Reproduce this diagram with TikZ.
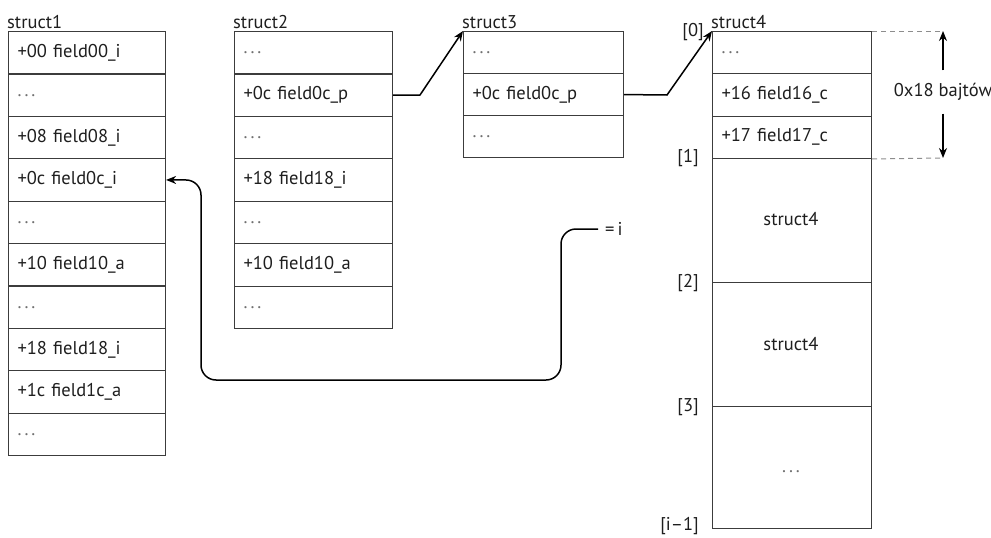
\documentclass[tikz,border=0pt]{standalone}
\usepackage{fontspec}
\setmainfont{PT Sans}
\usetikzlibrary{arrows.meta}
\definecolor{boxc}{HTML}{3C3C3C}
\definecolor{txtc}{HTML}{1E1E1E}
\definecolor{dotc}{HTML}{707070}
\newcommand{\fs}{\fontsize{18.5}{22}\selectfont}
\newcommand{\dd}{{\color{dotc}.\hspace{3pt}.\hspace{3pt}.}}
\begin{document}
\begin{tikzpicture}[x=1pt,y=-1pt,
  cellbase/.style={draw=boxc, line width=1.1pt, rectangle, anchor=north west,
    inner xsep=9pt, inner ysep=0pt, align=left, font=\fs, text=txtc},
  cA/.style={cellbase, text width=139pt, minimum height=42.4pt},
  cB/.style={cellbase, text width=140pt, minimum height=42.4pt},
  cC/.style={cellbase, text width=142pt, minimum height=42pt},
  cD/.style={cellbase, text width=141pt, minimum height=42.3pt},
  big/.style={draw=boxc, line width=1.1pt, rectangle, anchor=north west,
    minimum width=159pt, font=\fs, text=txtc, align=center},
  title/.style={anchor=south west, inner sep=1pt, font=\fs, text=txtc},
  idx/.style={anchor=east, inner sep=1pt, font=\fs, text=txtc},
  link/.style={black, line width=1.5pt, -{Stealth[length=10pt,width=8pt]}},
  dim/.style={black, line width=1.4pt, -{Stealth[length=10pt,width=8pt]}},
  guide/.style={dotc!80, line width=1pt, dashed, dash pattern=on 5pt off 4pt}
]
\useasboundingbox (0,0) rectangle (991,538);

% struct1
\node[title] (t1) at (6,30) {struct1};
\foreach \t [count=\i] in {+00 field00\_i,\dd,+08 field08\_i,+0c field0c\_i,\dd,+10 field10\_a,\dd,+18 field18\_i,+1c field1c\_a,\dd}
  \node[cA] (s1-\i) at (8,{31+(\i-1)*42.4}) {\t};

% struct2
\node[title] (t2) at (232,30) {struct2};
\foreach \t [count=\i] in {\dd,+0c field0c\_p,\dd,+18 field18\_i,\dd,+10 field10\_a,\dd}
  \node[cB] (s2-\i) at (234,{31+(\i-1)*42.43}) {\t};

% struct3
\node[title] (t3) at (461,30) {struct3};
\foreach \t [count=\i] in {\dd,+0c field0c\_p,\dd}
  \node[cC] (s3-\i) at (463,{31+(\i-1)*42}) {\t};

% struct4
\node[title] (t4) at (710,30) {struct4};
\foreach \t [count=\i] in {\dd,+16 field16\_c,+17 field17\_c}
  \node[cD] (s4-\i) at (712,{31+(\i-1)*42.3}) {\t};
\node[big, minimum height=124pt] (s4a) at (712,158) {};
\node[big, minimum height=124pt] (s4b) at (712,282) {};
\node[big, minimum height=122pt] (s4c) at (712,406) {};
\node[font=\fs, text=txtc] (s4at) at (791,219) {struct4};
\node[font=\fs, text=txtc] (s4bt) at (791,344) {struct4};
\node[font=\fs, text=txtc] (s4ct) at (791,472) {\dd};

% indices
\node[idx] (i0) at (705,32) {[0]};
\node[idx] (i1) at (700,158) {[1]};
\node[idx] (i2) at (700,283) {[2]};
\node[idx] (i3) at (700,407) {[3]};
\node[idx] (i4) at (700,526) {[i–1]};

% pointer links
\coordinate (k2) at (420,95);
\draw[link] (s2-2.east) -- (k2) -- (s3-1.north west);
\coordinate (k3) at (667,95);
\draw[link] (s3-2.east) -- (k3) -- (s4-1.north west);

% size dimension
\coordinate (d0) at (943,31);
\coordinate (d1) at (943,158);
\draw[guide] (s4-1.north east) -- (d0);
\draw[guide] (s4-3.south east) -- (d1);
\node[font=\fs, text=txtc, minimum height=43pt, inner sep=0pt] (sz) at (943,92) {0x18 bajtów};
\draw[dim] (sz.north) -- (d0);
\draw[dim] (sz.south) -- (d1);

% =i link
\node[font=\fs, text=txtc, anchor=west, inner sep=1pt] (eq) at (604,229) {=\,i};
\coordinate (e0) at (598,229);
\draw[link, rounded corners=15pt] (e0) -- (561,229) -- (561,380) -- (201,380) -- (201,180) -- (s1-4.east);
\end{tikzpicture}
\end{document}
